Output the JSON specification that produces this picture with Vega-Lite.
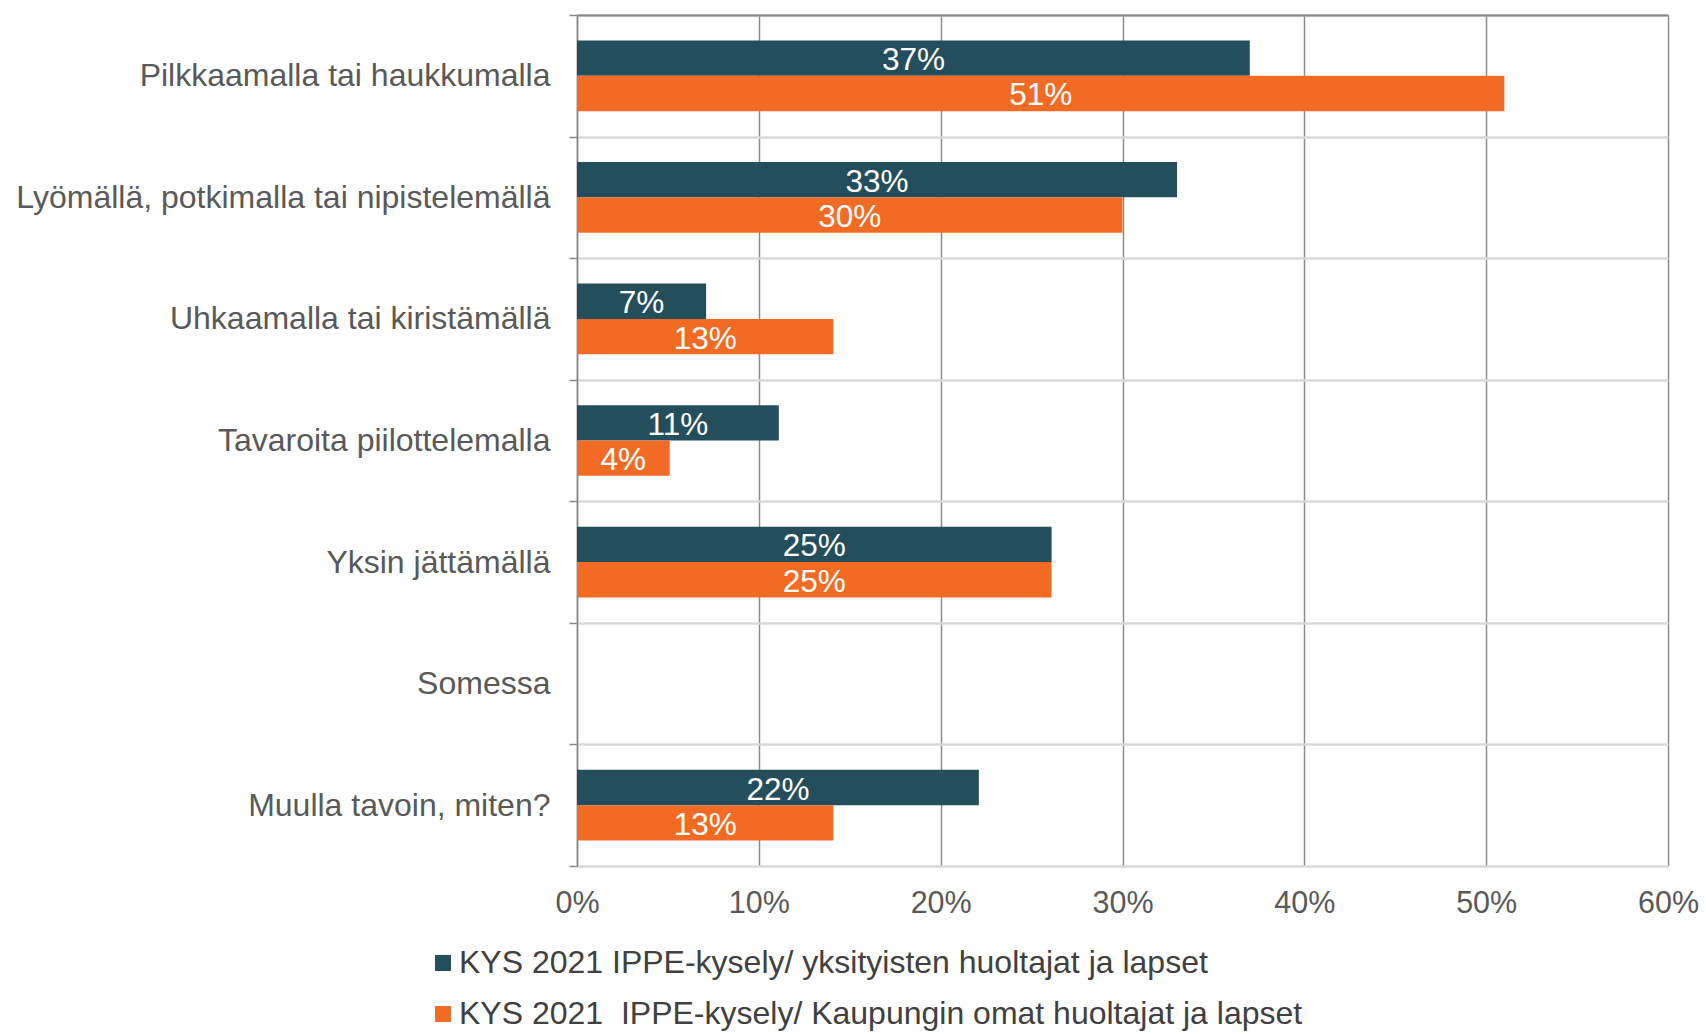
{
  "$schema": "https://vega.github.io/schema/vega-lite/v6.json",
  "width": 1091,
  "height": 851,
  "autosize": {"type": "none"},
  "padding": {"left": 577, "top": 15, "right": 38, "bottom": 168},
  "config": {
    "view": {"stroke": null},
    "font": "Liberation Sans",
    "background": "white"
  },
  "data": {
    "values": [
      {"category": "Pilkkaamalla tai haukkumalla", "series": "KYS 2021 IPPE-kysely/ yksityisten huoltajat ja lapset", "value": 37, "label": "37%"},
      {"category": "Pilkkaamalla tai haukkumalla", "series": "KYS 2021  IPPE-kysely/ Kaupungin omat huoltajat ja lapset", "value": 51, "label": "51%"},
      {"category": "Lyömällä, potkimalla tai nipistelemällä", "series": "KYS 2021 IPPE-kysely/ yksityisten huoltajat ja lapset", "value": 33, "label": "33%"},
      {"category": "Lyömällä, potkimalla tai nipistelemällä", "series": "KYS 2021  IPPE-kysely/ Kaupungin omat huoltajat ja lapset", "value": 30, "label": "30%"},
      {"category": "Uhkaamalla tai kiristämällä", "series": "KYS 2021 IPPE-kysely/ yksityisten huoltajat ja lapset", "value": 7.1, "label": "7%"},
      {"category": "Uhkaamalla tai kiristämällä", "series": "KYS 2021  IPPE-kysely/ Kaupungin omat huoltajat ja lapset", "value": 14.1, "label": "13%"},
      {"category": "Tavaroita piilottelemalla", "series": "KYS 2021 IPPE-kysely/ yksityisten huoltajat ja lapset", "value": 11.1, "label": "11%"},
      {"category": "Tavaroita piilottelemalla", "series": "KYS 2021  IPPE-kysely/ Kaupungin omat huoltajat ja lapset", "value": 5.1, "label": "4%"},
      {"category": "Yksin jättämällä", "series": "KYS 2021 IPPE-kysely/ yksityisten huoltajat ja lapset", "value": 26.1, "label": "25%"},
      {"category": "Yksin jättämällä", "series": "KYS 2021  IPPE-kysely/ Kaupungin omat huoltajat ja lapset", "value": 26.1, "label": "25%"},
      {"category": "Somessa", "series": "KYS 2021 IPPE-kysely/ yksityisten huoltajat ja lapset", "value": 0, "label": ""},
      {"category": "Somessa", "series": "KYS 2021  IPPE-kysely/ Kaupungin omat huoltajat ja lapset", "value": 0, "label": ""},
      {"category": "Muulla tavoin, miten?", "series": "KYS 2021 IPPE-kysely/ yksityisten huoltajat ja lapset", "value": 22.1, "label": "22%"},
      {"category": "Muulla tavoin, miten?", "series": "KYS 2021  IPPE-kysely/ Kaupungin omat huoltajat ja lapset", "value": 14.1, "label": "13%"}
    ]
  },
  "encoding": {
    "y": {
      "field": "category",
      "type": "nominal",
      "sort": ["Pilkkaamalla tai haukkumalla", "Lyömällä, potkimalla tai nipistelemällä", "Uhkaamalla tai kiristämällä", "Tavaroita piilottelemalla", "Yksin jättämällä", "Somessa", "Muulla tavoin, miten?"],
      "scale": {"paddingInner": 0, "paddingOuter": 0},
      "axis": {
        "title": null,
        "tickBand": "extent",
        "grid": true,
        "gridColor": "#d9d9d9",
        "gridWidth": 2.5,
        "domain": true,
        "domainColor": "#868686",
        "domainWidth": 1.5,
        "ticks": true,
        "tickColor": "#868686",
        "tickWidth": 1.5,
        "tickSize": 8,
        "labelFontSize": 32,
        "labelColor": "#595959",
        "labelPadding": 19,
        "labelLimit": 700
      }
    },
    "yOffset": {
      "field": "series",
      "type": "nominal",
      "sort": ["KYS 2021 IPPE-kysely/ yksityisten huoltajat ja lapset", "KYS 2021  IPPE-kysely/ Kaupungin omat huoltajat ja lapset"],
      "scale": {"paddingInner": 0, "paddingOuter": 0.72}
    }
  },
  "layer": [
    {
      "mark": {"type": "bar"},
      "encoding": {
        "x": {
          "field": "value",
          "type": "quantitative",
          "scale": {"domain": [0, 60], "nice": false},
          "axis": {
            "title": null,
            "orient": "bottom",
            "values": [0, 10, 20, 30, 40, 50, 60],
            "labelExpr": "datum.value + '%'",
            "grid": true,
            "gridColor": "#8c8c8c",
            "gridWidth": 1.5,
            "domain": false,
            "ticks": false,
            "labelFontSize": 30.5,
            "labelColor": "#595959",
            "labelBaseline": "middle",
            "labelPadding": 37,
            "labelFlush": false,
            "labelOverlap": false
          }
        },
        "color": {
          "field": "series",
          "type": "nominal",
          "scale": {
            "domain": ["KYS 2021 IPPE-kysely/ yksityisten huoltajat ja lapset", "KYS 2021  IPPE-kysely/ Kaupungin omat huoltajat ja lapset"],
            "range": ["#244E5C", "#F26B24"]
          },
          "legend": {
            "title": null,
            "orient": "none",
            "direction": "vertical",
            "legendX": -150,
            "legendY": 932,
            "symbolType": "square",
            "symbolSize": 256,
            "symbolStrokeWidth": 0,
            "labelFontSize": 32,
            "labelColor": "#404040",
            "labelOffset": 0,
            "labelExpr": "replace(datum.label, '2021  IPPE', '2021 \u00a0IPPE')",
            "rowPadding": 19,
            "padding": 0,
            "labelLimit": 1000
          }
        }
      }
    },
    {
      "transform": [{"filter": "datum.value > 0"}],
      "mark": {"type": "text", "color": "white", "fontSize": 31.5, "align": "center", "baseline": "middle", "dy": 3},
      "encoding": {
        "x": {
          "field": "value",
          "type": "quantitative",
          "scale": {"domain": [0, 120], "nice": false},
          "axis": {
            "title": null,
            "orient": "top",
            "labels": false,
            "ticks": false,
            "grid": false,
            "domain": true,
            "domainColor": "#868686",
            "domainWidth": 2
          }
        },
        "text": {"field": "label", "type": "nominal"}
      }
    }
  ],
  "resolve": {"scale": {"x": "independent"}, "axis": {"x": "independent"}}
}
